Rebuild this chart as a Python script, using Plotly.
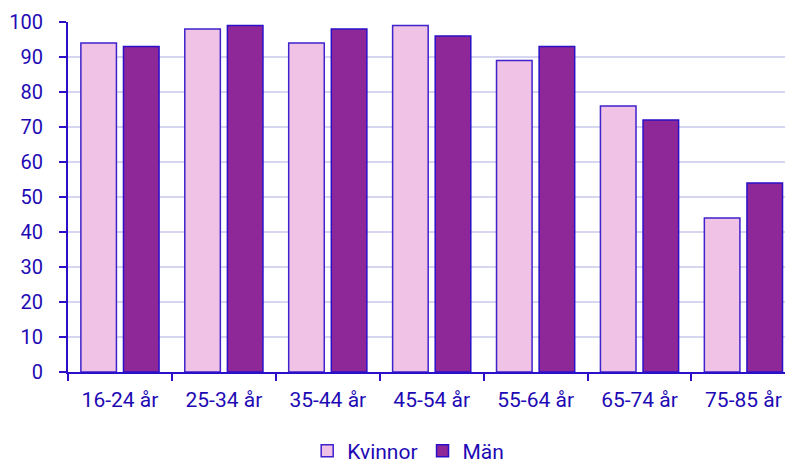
import plotly.graph_objects as go

categories = ["16-24 år", "25-34 år", "35-44 år", "45-54 år", "55-64 år", "65-74 år", "75-85 år"]
kvinnor = [94, 98, 94, 99, 89, 76, 44]
man = [93, 99, 98, 96, 93, 72, 54]
y_ticks = [0, 10, 20, 30, 40, 50, 60, 70, 80, 90, 100]

TEXT = "#1E0AB4"
LINE = "#2A10C8"

fig = go.Figure()
fig.add_trace(go.Bar(name="Kvinnor", x=categories, y=kvinnor,
                     marker=dict(color="#F0C2E5", line=dict(color="#3E22CC", width=1.5))))
fig.add_trace(go.Bar(name="Män", x=categories, y=man,
                     marker=dict(color="#8E2898", line=dict(color=LINE, width=1.5))))

fig.update_layout(
    width=785, height=461,
    margin=dict(l=68, r=0, t=22, b=89, autoexpand=False),
    paper_bgcolor="white", plot_bgcolor="white",
    barmode="group", bargap=0.18, bargroupgap=0.165,
    font=dict(family="Roboto", size=20, color=TEXT),
    showlegend=True,
    legend=dict(orientation="h", x=0.3336, xanchor="left", y=-0.226, yanchor="middle",
                font=dict(size=21, color=TEXT), itemwidth=30, tracegroupgap=0),
    xaxis=dict(range=[-0.5, 6.4], showline=True, linecolor=LINE, linewidth=2,
               ticks="outside", tickson="boundaries", ticklen=7, tickwidth=2, tickcolor=LINE,
               showgrid=False, fixedrange=True, ticklabelstandoff=8, automargin=False,
               ticklabeloverflow="allow", tickfont=dict(size=21)),
    yaxis=dict(range=[0, 100], tickvals=y_ticks, showline=True, linecolor=LINE, linewidth=2,
               ticks="outside", ticklen=7, tickwidth=2, tickcolor=LINE,
               showgrid=True, gridcolor="#D6D6F0", gridwidth=2, zeroline=False,
               fixedrange=True, automargin=False, ticklabelstandoff=12,
               tickfont=dict(size=20)),
)

fig.write_html(
    "out.html",
    config={"displayModeBar": False, "staticPlot": False},
    post_script="document.body.style.margin='0';document.body.style.overflow='hidden';",
)
